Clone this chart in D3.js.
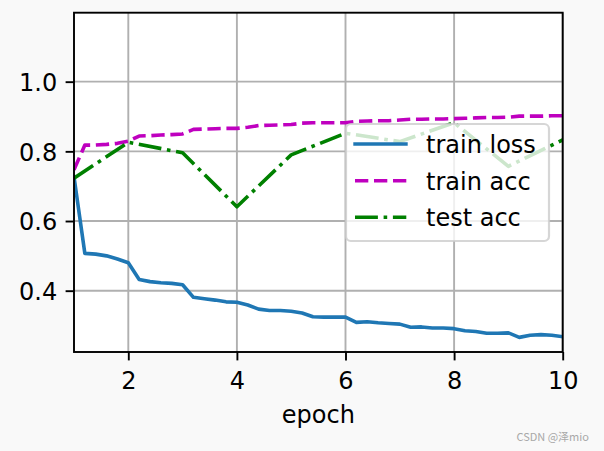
<!DOCTYPE html>
<html>
<head>
<meta charset="utf-8">
<script src="https://cdn.jsdelivr.net/npm/d3@7"></script>
<style>
  html, body { margin: 0; padding: 0; background: #f9f9f9; }
  svg { display: block; }
</style>
</head>
<body>
<svg id="chart" width="604" height="451"></svg>
<script>
// ---- data ----
const trainEpochs = [1.0, 1.2, 1.4, 1.6, 1.8, 2.0, 2.2, 2.4, 2.6, 2.8, 3.0, 3.2, 3.4, 3.6, 3.8, 4.0,
  4.2, 4.4, 4.6, 4.8, 5.0, 5.2, 5.4, 5.6, 5.8, 6.0, 6.2, 6.4, 6.6, 6.8, 7.0,
  7.2, 7.4, 7.6, 7.8, 8.0, 8.2, 8.4, 8.6, 8.8, 9.0, 9.2, 9.4, 9.6, 9.8, 10.0];
const trainLoss = [0.727, 0.507, 0.505, 0.500, 0.491, 0.480, 0.432, 0.426, 0.423, 0.421, 0.417,
  0.381, 0.377, 0.373, 0.368, 0.367, 0.359, 0.347, 0.343, 0.343, 0.341,
  0.336, 0.325, 0.324, 0.324, 0.324, 0.309, 0.311, 0.308, 0.306, 0.304,
  0.295, 0.296, 0.293, 0.293, 0.291, 0.285, 0.283, 0.278, 0.278, 0.279,
  0.266, 0.272, 0.274, 0.272, 0.268];
const trainAcc = [0.747, 0.818, 0.818, 0.820, 0.823, 0.829, 0.844, 0.845, 0.847, 0.848, 0.850,
  0.863, 0.864, 0.865, 0.866, 0.866, 0.869, 0.874, 0.875, 0.876, 0.877,
  0.881, 0.882, 0.882, 0.882, 0.882, 0.886, 0.887, 0.888, 0.888, 0.890,
  0.892, 0.892, 0.893, 0.893, 0.894, 0.895, 0.896, 0.897, 0.897, 0.898,
  0.901, 0.901, 0.901, 0.902, 0.902];
const testEpochs = [1, 2, 3, 4, 5, 6, 7, 8, 9, 10];
const testAcc = [0.723, 0.826, 0.796, 0.641, 0.790, 0.852, 0.828, 0.882, 0.757, 0.833];
const xTicks = [2, 4, 6, 8, 10];
const yTicks = [0.4, 0.6, 0.8, 1.0];
const seriesNames = ["train loss", "train acc", "test acc"];
const xLabel = "epoch";
const watermark = "CSDN @泽mio";

// ---- layout ----
const L = 74, R = 562.7, T = 12.7, B = 352;
const FONT = "DejaVu Sans, sans-serif";
const FS = 24;
const x = d3.scaleLinear().domain([1, 10]).range([L, R]);
const y = d3.scaleLinear().domain([0.224, 1.198]).range([B, T]);

const svg = d3.select("#chart");
svg.append("rect").attr("width", 604).attr("height", 451).attr("fill", "#f9f9f9");
svg.append("rect").attr("x", L).attr("y", T).attr("width", R - L).attr("height", B - T).attr("fill", "#ffffff");

svg.append("defs").append("clipPath").attr("id", "clip")
  .append("rect").attr("x", L).attr("y", T).attr("width", R - L).attr("height", B - T);

// grid
const grid = svg.append("g");
grid.selectAll("line.gx").data(xTicks).enter().append("line")
  .attr("x1", d => x(d)).attr("x2", d => x(d)).attr("y1", T).attr("y2", B)
  .attr("stroke", "#b0b0b0").attr("stroke-width", 1.9);
grid.selectAll("line.gy").data(yTicks).enter().append("line")
  .attr("x1", L).attr("x2", R).attr("y1", d => y(d)).attr("y2", d => y(d))
  .attr("stroke", "#b0b0b0").attr("stroke-width", 1.9);

// lines
const LW = 3.6;
const styles = [
  { color: "#1f77b4", dash: null, cap: "square" },
  { color: "#bf00bf", dash: "13.3,5.7", cap: "butt" },
  { color: "#008000", dash: "22.9,5.7,3.6,5.7", cap: "butt" }
];
const line = d3.line().x(d => x(d[0])).y(d => y(d[1]));
const series = [
  trainEpochs.map((e, i) => [e, trainLoss[i]]),
  trainEpochs.map((e, i) => [e, trainAcc[i]]),
  testEpochs.map((e, i) => [e, testAcc[i]])
];
const lg = svg.append("g").attr("clip-path", "url(#clip)");
series.forEach((s, i) => {
  lg.append("path").attr("d", line(s)).attr("fill", "none")
    .attr("stroke", styles[i].color).attr("stroke-width", LW)
    .attr("stroke-linejoin", "round").attr("stroke-linecap", styles[i].cap)
    .attr("stroke-dasharray", styles[i].dash);
});

// axes with d3
const xAxis = d3.axisBottom(x).tickValues(xTicks).tickFormat(d3.format("d")).tickSize(8.4).tickPadding(8.4);
const yAxis = d3.axisLeft(y).tickValues(yTicks).tickFormat(d3.format(".1f")).tickSize(8.4).tickPadding(8.4);
const gx = svg.append("g").attr("transform", `translate(0,${B})`).call(xAxis);
const gy = svg.append("g").attr("transform", `translate(${L},0)`).call(yAxis);
[gx, gy].forEach(g => {
  g.select(".domain").remove();
  g.selectAll(".tick line").attr("stroke", "#000").attr("stroke-width", 1.9);
  g.selectAll(".tick text").attr("font-family", FONT).attr("font-size", FS).attr("fill", "#000");
});
gx.selectAll(".tick text").attr("dy", null).attr("y", 37.3);
gy.selectAll(".tick text").attr("dy", null).attr("y", 8.7);

// spines
svg.append("rect").attr("x", L).attr("y", T).attr("width", R - L).attr("height", B - T)
  .attr("fill", "none").attr("stroke", "#000").attr("stroke-width", 1.9);

// x label
svg.append("text").attr("x", (L + R) / 2).attr("y", 422.7).attr("text-anchor", "middle")
  .attr("font-family", FONT).attr("font-size", FS).attr("fill", "#000").text(xLabel);

// legend
const leg = svg.append("g");
leg.append("rect").attr("x", 346).attr("y", 124).attr("width", 203).attr("height", 117)
  .attr("rx", 4.8).attr("ry", 4.8)
  .attr("fill", "#ffffff").attr("fill-opacity", 0.8)
  .attr("stroke", "#cccccc").attr("stroke-opacity", 0.8).attr("stroke-width", 2.2);
const rowY = [144, 180.7, 217.3];
seriesNames.forEach((name, i) => {
  leg.append("line").attr("x1", styles[i].cap === "square" ? 355.1 : 355).attr("x2", styles[i].cap === "square" ? 405.9 : 406.3)
    .attr("y1", rowY[i]).attr("y2", rowY[i])
    .attr("stroke", styles[i].color).attr("stroke-width", LW)
    .attr("stroke-linecap", styles[i].cap).attr("stroke-dasharray", styles[i].dash);
  leg.append("text").attr("x", 426).attr("y", rowY[i] + 9)
    .attr("font-family", FONT).attr("font-size", FS).attr("fill", "#000").text(name);
});

// watermark
svg.append("text").attr("x", 589).attr("y", 441).attr("text-anchor", "end")
  .attr("font-family", "Noto Sans CJK SC, sans-serif").attr("font-size", 11).attr("fill", "#a8a8a8").text(watermark);
</script>
</body>
</html>
